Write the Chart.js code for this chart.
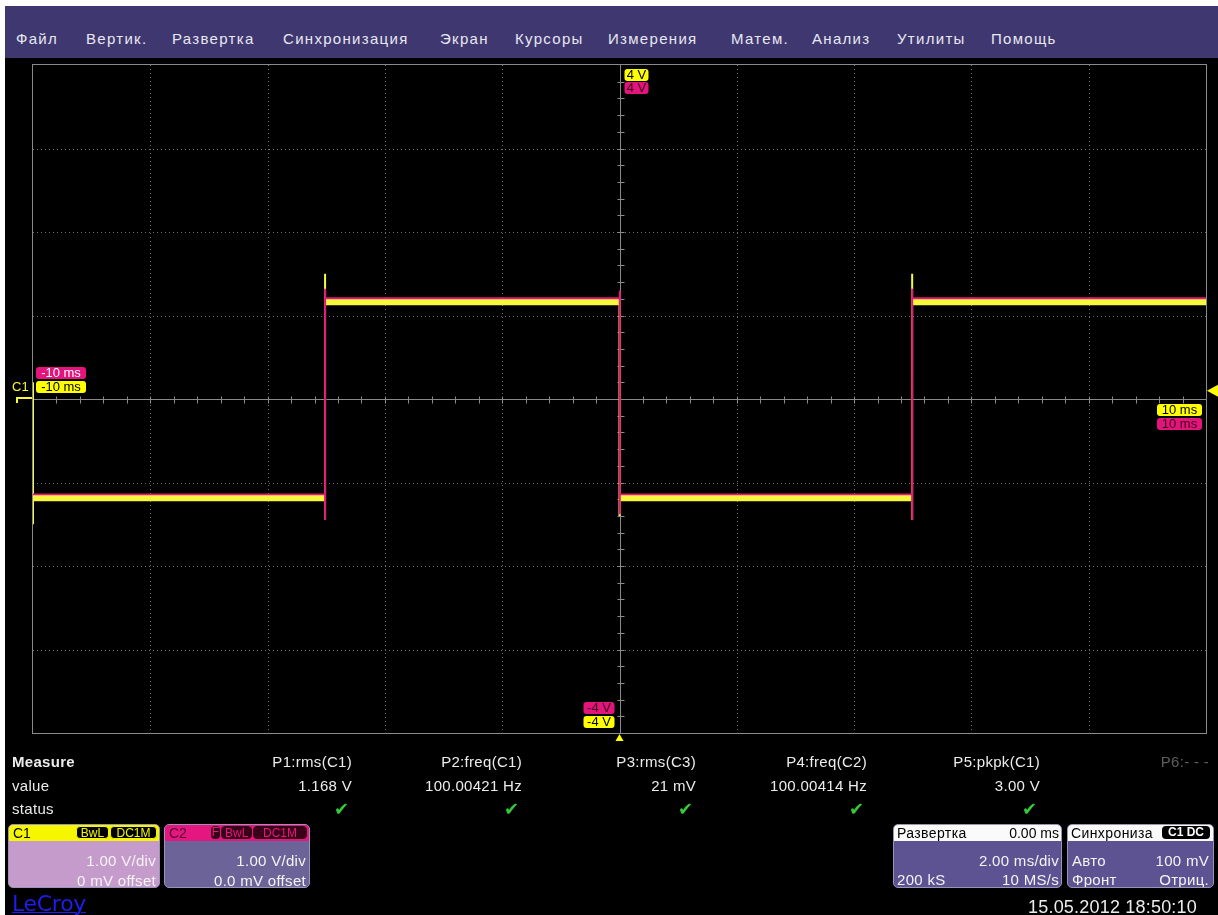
<!DOCTYPE html>
<html lang="ru">
<head>
<meta charset="utf-8">
<title>LeCroy</title>
<script src="https://cdn.jsdelivr.net/npm/chart.js@4.4.1/dist/chart.umd.min.js"></script>
<style>
html,body{margin:0;padding:0;width:1218px;height:915px;overflow:hidden;background:#fff;font-family:"Liberation Sans",Arial,sans-serif;}
#screen{position:absolute;left:5px;top:6px;width:1213px;height:909px;background:#000;}
#menu{position:absolute;left:5px;top:6px;width:1213px;height:52px;background:#3f3770;}
.mi{position:absolute;top:24px;color:#e8e8f0;font-size:15px;line-height:18px;letter-spacing:1.3px;white-space:nowrap;}
#plot{position:absolute;left:0;top:0;}
.t{position:absolute;color:#ececec;font-size:15px;line-height:16px;white-space:nowrap;letter-spacing:0.3px;}
.rt{text-align:right;}
.ok{position:absolute;color:#35c935;font-family:"DejaVu Sans";font-size:18px;line-height:18px;}
.box{position:absolute;border-radius:5px;overflow:hidden;border:1px solid #9a94b8;}
.hdr{position:absolute;left:0;top:0;right:0;height:16px;}
.ht{position:absolute;top:0;font-size:14px;line-height:16px;white-space:nowrap;}
.tag{position:absolute;top:1px;height:13px;font-size:12px;line-height:13px;border-radius:4px;padding:0 3px;white-space:nowrap;box-sizing:border-box;text-align:center;}
.bt{position:absolute;color:#f4f4f4;font-size:15px;line-height:16px;white-space:nowrap;letter-spacing:0.3px;}
</style>
</head>
<body>
<div id="screen"></div>
<div id="menu">
  <div class="mi" style="left:11px">Файл</div>
  <div class="mi" style="left:81px">Вертик.</div>
  <div class="mi" style="left:167px">Развертка</div>
  <div class="mi" style="left:278px">Синхронизация</div>
  <div class="mi" style="left:435px">Экран</div>
  <div class="mi" style="left:510px">Курсоры</div>
  <div class="mi" style="left:603px">Измерения</div>
  <div class="mi" style="left:726px">Матем.</div>
  <div class="mi" style="left:807px">Анализ</div>
  <div class="mi" style="left:892px">Утилиты</div>
  <div class="mi" style="left:986px">Помощь</div>
</div>
<canvas id="plot" width="1218" height="915"></canvas>
<div id="measure"></div>

<!-- channel and timebase panels -->
<div class="box" style="left:8px;top:824px;width:150px;height:62px;background:#c49bcb;">
  <div class="hdr" style="background:#f6f600;">
    <div class="ht" style="left:4px;color:#000;">C1</div>
    <div class="tag" style="left:67px;width:33px;background:#000;color:#f6f600;border:1px solid #f6f600;">BwL</div>
    <div class="tag" style="left:101px;width:47px;background:#000;color:#f6f600;border:1px solid #f6f600;">DC1M</div>
  </div>
  <div class="bt" style="right:3px;top:28px;">1.00 V/div</div>
  <div class="bt" style="right:3px;top:48px;">0 mV offset</div>
</div>
<div class="box" style="left:164px;top:824px;width:144px;height:62px;background:#6c6398;">
  <div class="hdr" style="background:#e3177f;">
    <div class="ht" style="left:4px;color:#5a0030;">C2</div>
    <div class="tag" style="left:46px;width:9px;padding:0;background:#3a0018;color:#e3177f;">F</div>
    <div class="tag" style="left:56px;width:31px;background:#3a0018;color:#e3177f;border:1px solid #3a0018;">BwL</div>
    <div class="tag" style="left:88px;width:54px;background:#3a0018;color:#e3177f;border:1px solid #3a0018;">DC1M</div>
  </div>
  <div class="bt" style="right:3px;top:28px;">1.00 V/div</div>
  <div class="bt" style="right:3px;top:48px;">0.0 mV offset</div>
</div>
<div style="position:absolute;left:12px;top:893px;color:#1d1df2;font-family:'DejaVu Sans';font-size:22px;line-height:22px;letter-spacing:-0.3px;text-decoration:underline;text-decoration-thickness:1px;">LeCroy</div>

<div class="box" style="left:893px;top:824px;width:167px;height:62px;background:#5d5392;">
  <div class="hdr" style="background:#fafafa;">
    <div class="ht" style="left:3px;color:#000;letter-spacing:0.4px;">Развертка</div>
    <div class="ht" style="right:2px;color:#000;">0.00 ms</div>
  </div>
  <div class="bt" style="right:2px;top:28px;">2.00 ms/div</div>
  <div class="bt" style="left:3px;top:47px;">200 kS</div>
  <div class="bt" style="right:2px;top:47px;">10 MS/s</div>
</div>
<div class="box" style="left:1067px;top:824px;width:145px;height:62px;background:#5d5392;">
  <div class="hdr" style="background:#fafafa;">
    <div class="ht" style="left:3px;color:#000;letter-spacing:0.4px;">Синхрониза</div>
    <div class="tag" style="left:94px;width:48px;background:#000;color:#fff;font-weight:bold;">C1 DC</div>
  </div>
  <div class="bt" style="left:4px;top:28px;">Авто</div>
  <div class="bt" style="right:4px;top:28px;">100 mV</div>
  <div class="bt" style="left:4px;top:47px;">Фронт</div>
  <div class="bt" style="right:4px;top:47px;">Отриц.</div>
</div>
<div class="t" style="left:1020px;width:177px;top:897px;font-size:18px;line-height:20px;text-align:right;letter-spacing:0.2px;">15.05.2012 18:50:10</div>

<script>
// ---- measurement table ----
const paramNames  = ['P1:rms(C1)', 'P2:freq(C1)', 'P3:rms(C3)', 'P4:freq(C2)', 'P5:pkpk(C1)', 'P6:- - -'];
const paramValues = ['1.168 V', '100.00421 Hz', '21 mV', '100.00414 Hz', '3.00 V', ''];
const paramStatus = [true, true, true, true, true, false];

// ---- vertical / horizontal settings ----
const voltsPerDiv = 1.0;          // V/div
const vertDivs = 8;
const msPerDiv = 2.0;             // ms/div
const horizDivs = 10;
const voltLimitLabels = ['4 V', '-4 V'];
const timeLimitLabels = ['-10 ms', '10 ms'];
const triggerLevelV = 0.1;        // 100 mV
const triggerTimeMs = 0.0;

// ---- C1 (yellow) trace: settled segments and edge excursions ----
const c1SegStart = [-10.0, -5.02, 0.00, 4.99];
const c1SegEnd   = [-5.02,  0.00, 4.99, 10.0];
const c1SegLevel = [-1.19,  1.16, -1.19, 1.16];
const c1EdgeTime = [-10.0, -5.02, 0.00, 4.99];
const c1EdgeMin  = [-1.50, -1.45, -1.40, -1.45];
const c1EdgeMax  = [ 0.20,  1.50,  1.20,  1.50];

// ---- C2 (magenta) trace ----
const c2SegStart = [-10.0, -5.02, 0.00, 4.99];
const c2SegEnd   = [-5.02,  0.00, 4.99, 10.0];
const c2SegLevel = [-1.15,  1.20, -1.15, 1.20];
const c2EdgeTime = [-5.02, 0.005, 4.99];
const c2EdgeMin  = [-1.45, -1.38, -1.45];
const c2EdgeMax  = [ 1.32,  1.30,  1.32];

const YEL = '#f7f73e';
const MAG = '#e2187f';

function segPoints(starts, ends, levels) {
  const pts = [];
  for (let i = 0; i < levels.length; i++) {
    pts.push({x: starts[i], y: levels[i]}, {x: ends[i], y: levels[i]}, {x: ends[i], y: null});
  }
  return pts;
}
function edgePoints(times, mins, maxs) {
  const pts = [];
  for (let i = 0; i < times.length; i++) {
    pts.push({x: times[i], y: mins[i]}, {x: times[i], y: maxs[i]}, {x: times[i], y: null});
  }
  return pts;
}

// measurement table rows
(function buildTable() {
  const host = document.getElementById('measure');
  const rights = [352, 522, 696, 867, 1040, 1209];
  let html = '<div class="t" style="left:12px;top:754px;font-weight:bold;">Measure</div>' +
             '<div class="t" style="left:12px;top:778px;">value</div>' +
             '<div class="t" style="left:12px;top:801px;">status</div>';
  paramNames.forEach((n, i) => {
    const col = i === 5 ? '#5e5e5e' : '#ececec';
    html += `<div class="t rt" style="left:${rights[i]-160}px;width:160px;top:754px;color:${col}">${n}</div>`;
    if (paramValues[i]) html += `<div class="t rt" style="left:${rights[i]-160}px;width:160px;top:778px;">${paramValues[i]}</div>`;
    if (paramStatus[i]) html += `<div class="ok" style="left:${rights[i]-18}px;top:800px;">✔</div>`;
  });
  host.innerHTML = html;
})();

function roundTag(ctx, x, y, w, h, fill, text, color) {
  ctx.fillStyle = fill;
  ctx.beginPath();
  ctx.roundRect(x, y, w, h, 3);
  ctx.fill();
  ctx.fillStyle = color;
  ctx.font = '13px "Liberation Sans", Arial';
  ctx.textAlign = 'center';
  ctx.textBaseline = 'middle';
  ctx.fillText(text, x + w / 2, y + h / 2 + 0.5);
}

// graticule: dotted grid, centre axes with minor ticks, frame
const graticule = {
  id: 'graticule',
  beforeDatasetsDraw(chart) {
    const {ctx, chartArea: a, scales: {x, y}} = chart;
    ctx.save();
    ctx.strokeStyle = '#6e6e6e';
    ctx.lineWidth = 1;
    ctx.setLineDash([1, 3]);
    for (let i = 1; i < horizDivs; i++) {
      if (i === horizDivs / 2) continue;
      const px = Math.round(x.getPixelForValue(x.min + i * msPerDiv)) + 0.5;
      ctx.beginPath(); ctx.moveTo(px, a.top); ctx.lineTo(px, a.bottom); ctx.stroke();
    }
    for (let j = 1; j < vertDivs; j++) {
      if (j === vertDivs / 2) continue;
      const py = Math.round(y.getPixelForValue(y.min + j * voltsPerDiv)) + 0.5;
      ctx.beginPath(); ctx.moveTo(a.left, py); ctx.lineTo(a.right, py); ctx.stroke();
    }
    ctx.setLineDash([]);
    // centre cross with minor ticks
    ctx.strokeStyle = '#8a8a8a';
    const cx = Math.round(x.getPixelForValue(0)) + 0.5;
    const cy = Math.round(y.getPixelForValue(0)) + 0.5;
    ctx.beginPath(); ctx.moveTo(cx, a.top); ctx.lineTo(cx, a.bottom); ctx.stroke();
    ctx.beginPath(); ctx.moveTo(a.left, cy); ctx.lineTo(a.right, cy); ctx.stroke();
    for (let k = 1; k < horizDivs * 5; k++) {
      const px = Math.round(x.getPixelForValue(x.min + k * msPerDiv / 5)) + 0.5;
      ctx.beginPath(); ctx.moveTo(px, cy - 3); ctx.lineTo(px, cy + 4); ctx.stroke();
    }
    for (let k = 1; k < vertDivs * 5; k++) {
      const py = Math.round(y.getPixelForValue(y.min + k * voltsPerDiv / 5)) + 0.5;
      ctx.beginPath(); ctx.moveTo(cx - 3, py); ctx.lineTo(cx + 4, py); ctx.stroke();
    }
    // frame
    ctx.strokeStyle = '#8a8a8a';
    ctx.strokeRect(Math.round(a.left) - 0.5, Math.round(a.top) - 0.5, Math.round(a.right - a.left) + 1, Math.round(a.bottom - a.top) + 1);
    ctx.restore();
  },
  afterDatasetsDraw(chart) {
    const {ctx, chartArea: a, scales: {x, y}} = chart;
    ctx.save();
    const cx = x.getPixelForValue(0);
    const cy = y.getPixelForValue(0);
    // vertical limits
    const yTop = y.getPixelForValue(y.max);
    const yBot = y.getPixelForValue(y.min);
    roundTag(ctx, cx + 5, yTop + 4, 24, 12, '#ffff00', voltLimitLabels[0], '#000');
    roundTag(ctx, cx + 5, yTop + 17, 24, 12, '#e3157c', voltLimitLabels[0], '#3a0018');
    roundTag(ctx, cx - 36, yBot - 31, 31, 12, '#e3157c', voltLimitLabels[1], '#3a0018');
    roundTag(ctx, cx - 36, yBot - 17, 31, 12, '#ffff00', voltLimitLabels[1], '#000');
    // horizontal limits
    const xL = x.getPixelForValue(x.min);
    const xR = x.getPixelForValue(x.max);
    roundTag(ctx, xL + 3, cy - 32, 50, 12, '#e3157c', timeLimitLabels[0], '#fff');
    roundTag(ctx, xL + 3, cy - 18, 50, 12, '#ffff00', timeLimitLabels[0], '#000');
    roundTag(ctx, xR - 49, cy + 5, 45, 12, '#ffff00', timeLimitLabels[1], '#000');
    roundTag(ctx, xR - 49, cy + 19, 45, 12, '#e3157c', timeLimitLabels[1], '#3a0018');
    // C1 ground marker
    ctx.fillStyle = YEL;
    ctx.font = '13px "Liberation Sans", Arial';
    ctx.textAlign = 'left';
    ctx.textBaseline = 'middle';
    ctx.fillText('C1', xL - 21, cy - 12);
    ctx.strokeStyle = YEL;
    ctx.lineWidth = 2;
    ctx.beginPath(); ctx.moveTo(xL - 16, cy + 4); ctx.lineTo(xL - 16, cy - 1); ctx.lineTo(xL - 1, cy - 1); ctx.stroke();
    // trigger level marker (right)
    const ty = y.getPixelForValue(triggerLevelV);
    ctx.fillStyle = '#ffff00';
    ctx.beginPath(); ctx.moveTo(xR + 1, ty); ctx.lineTo(xR + 12, ty - 6); ctx.lineTo(xR + 12, ty + 6); ctx.closePath(); ctx.fill();
    // trigger time marker (bottom)
    const tx = x.getPixelForValue(triggerTimeMs);
    ctx.beginPath(); ctx.moveTo(tx, yBot + 1); ctx.lineTo(tx - 4, yBot + 8); ctx.lineTo(tx + 4, yBot + 8); ctx.closePath(); ctx.fill();
    ctx.restore();
  }
};

new Chart(document.getElementById('plot'), {
  type: 'line',
  data: {
    datasets: [
      {label: 'C2 edges', data: edgePoints(c2EdgeTime, c2EdgeMin, c2EdgeMax), borderColor: MAG, borderWidth: 2, order: 0},
      {label: 'C1', data: segPoints(c1SegStart, c1SegEnd, c1SegLevel), borderColor: YEL, borderWidth: 6, order: 1},
      {label: 'C2', data: segPoints(c2SegStart, c2SegEnd, c2SegLevel), borderColor: MAG, borderWidth: 3, order: 2},
      {label: 'C1 edges', data: edgePoints(c1EdgeTime, c1EdgeMin, c1EdgeMax), borderColor: YEL, borderWidth: 2, order: 3}
    ]
  },
  options: {
    responsive: false,
    animation: false,
    events: [],
    spanGaps: false,
    layout: {padding: {left: 33, right: 12, top: 65, bottom: 182}},
    elements: {point: {radius: 0}, line: {tension: 0, borderCapStyle: 'butt', borderJoinStyle: 'bevel'}},
    plugins: {legend: {display: false}, tooltip: {enabled: false}},
    scales: {
      x: {type: 'linear', min: -horizDivs / 2 * msPerDiv, max: horizDivs / 2 * msPerDiv, display: false},
      y: {type: 'linear', min: -vertDivs / 2 * voltsPerDiv, max: vertDivs / 2 * voltsPerDiv, display: false}
    }
  },
  plugins: [graticule]
});
</script>
</body>
</html>
